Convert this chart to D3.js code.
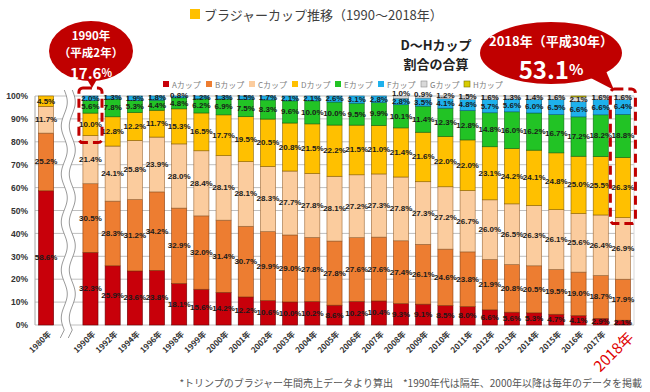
<!DOCTYPE html>
<html><head><meta charset="utf-8">
<script src="https://cdn.jsdelivr.net/npm/d3@7"></script>
<style>body{margin:0;background:#fff;} svg{display:block;}</style>
</head><body><svg id="chart" width="650" height="392"></svg>
<script>
const categories = ["1980年","1990年","1992年","1994年","1996年","1998年","1999年","2000年","2001年","2002年","2003年","2004年","2005年","2006年","2007年","2008年","2009年","2010年","2011年","2012年","2013年","2014年","2015年","2016年","2017年","2018年"];
const seriesNames = ["Aカップ","Bカップ","Cカップ","Dカップ","Eカップ","Fカップ","Gカップ","Hカップ"];
const cupA = [58.6,32.3,25.9,23.6,23.8,18.1,15.6,14.2,12.2,10.6,10.0,10.2,8.6,10.2,10.4,9.3,9.1,8.5,8.0,6.6,5.6,5.3,4.7,4.1,2.9,2.1];
const cupB = [25.2,30.5,28.3,31.2,34.2,32.9,32.0,31.4,30.7,29.9,29.0,27.8,27.8,27.6,27.6,27.4,26.1,24.6,23.8,21.9,20.8,20.5,19.5,19.0,18.7,17.9];
const cupC = [11.7,21.4,24.1,25.8,23.9,28.0,28.4,28.1,28.1,28.3,27.7,27.8,28.1,27.2,27.3,27.8,27.3,27.2,26.7,26.0,26.5,26.3,26.1,25.6,26.4,26.9];
const cupD = [4.5,10.0,12.8,12.2,11.7,15.3,16.5,17.7,19.5,20.5,20.8,21.5,22.2,21.5,21.0,21.4,21.6,22.0,22.0,23.1,24.2,24.1,24.8,25.0,25.5,26.3];
const cupE = [0,5.6,7.8,5.3,4.4,4.8,6.2,6.9,7.5,8.3,9.6,10.0,10.0,9.5,9.9,10.1,11.4,12.3,12.8,14.8,16.0,16.2,16.7,17.2,18.2,18.8];
const cupF = [0,2.0,1.3,1.9,1.8,0.8,1.2,1.3,1.5,1.7,2.1,2.1,2.6,3.1,2.8,2.8,3.5,4.1,4.8,5.7,5.6,6.0,6.5,6.6,6.6,6.4];
const cupG = [0,0,0,0,0,0,0,0,0,0,0,0,0,0,0,1.0,0.9,1.2,1.5,1.6,1.3,1.4,1.6,2.1,1.6,1.6];
const cupH = [0,0,0,0,0,0,0,0,0,0,0,0,0,0,0,0,0,0,0,0,0,0,0,0.4,0,0];
const yTicks = [0,0.1,0.2,0.3,0.4,0.5,0.6,0.7,0.8,0.9,1.0];
const titleText = "ブラジャーカップ推移（1990〜2018年）";
const footText = "*トリンプのブラジャー年間売上データより算出　*1990年代は隔年、2000年以降は毎年のデータを掲載";

const colors = ["#C8000A","#ED7D31","#FBCC9E","#FFC000","#22C325","#1EB1EC","#D9D9D9","#D8CC00"];
const strokes = ["#6b0005","#8a3d0c","#9c6a3a","#8a6200","#0d6a10","#0a5f80","#8c8c8c","#7a7300"];
const allSeries = [cupA,cupB,cupC,cupD,cupE,cupF,cupG,cupH];
const GAP = "_gap";

const rows = categories.map((c,i)=>{const r={cat:c}; seriesNames.forEach((s,j)=>r[s]=allSeries[j][i]); return r;});

const svg = d3.select("#chart");
const jp = "'Noto Sans CJK JP','Noto Sans',sans-serif";
const num = "'Liberation Sans',Arial,sans-serif";

const x = d3.scaleBand().domain([categories[0], GAP, ...categories.slice(1)]).range([35,634]).paddingInner(0.32).paddingOuter(0.16);
const y = d3.scaleLinear().domain([0,1]).range([325,96]);

// Title
svg.append("rect").attr("x",190).attr("y",9).attr("width",10).attr("height",10).attr("fill","#FFC000");
svg.append("text").attr("x",204).attr("y",14).attr("dominant-baseline","central")
  .attr("font-family",jp).attr("font-size",13).attr("fill","#404040").text(titleText);

// gridlines
svg.append("g").selectAll("line").data(yTicks).join("line")
  .attr("x1",35).attr("x2",634).attr("y1",d=>y(d)).attr("y2",d=>y(d))
  .attr("stroke","#bfbfbf").attr("stroke-width",1);
svg.append("line").attr("x1",35).attr("x2",35).attr("y1",y(1)).attr("y2",y(0)).attr("stroke","#a6a6a6");
svg.append("line").attr("x1",634).attr("x2",634).attr("y1",y(1)).attr("y2",y(0)).attr("stroke","#d9d9d9");

// y axis labels
const yAxis = d3.axisLeft(y).tickValues(yTicks).tickFormat(d3.format(".0%")).tickSize(0).tickPadding(7);
const ya = svg.append("g").attr("transform","translate(35,0)").call(yAxis);
ya.select(".domain").remove();
ya.selectAll("text").attr("font-family",num).attr("font-weight","bold").attr("font-size",8.5).attr("fill","#333");

// stacks
const stack = d3.stack().keys(seriesNames).offset(d3.stackOffsetExpand);
const series = stack(rows);
const bw = x.bandwidth();
series.forEach((s,si)=>{
  svg.append("g").selectAll("rect").data(s.filter(d=>d[1]-d[0]>0)).join("rect")
    .attr("x",d=>x(d.data.cat)).attr("width",bw)
    .attr("y",d=>y(d[1])).attr("height",d=>y(d[0])-y(d[1]))
    .attr("fill",colors[si]).attr("stroke",strokes[si]).attr("stroke-width",0.6);
});
// labels with simple upward nudging to avoid collisions at the top of bars
const labels = [];
categories.forEach((c,ci)=>{
  let prevY = Infinity;
  series.forEach((s,si)=>{
    const v = allSeries[si][ci];
    if (v < 0.5) return;
    const d = s[ci];
    let ly = y((d[0]+d[1])/2);
    if (ly > prevY - 8) ly = prevY - 8;
    prevY = ly;
    labels.push({cx:x(c)+bw/2, y:ly, t:v.toFixed(1)+"%"});
  });
});
svg.append("g").selectAll("text").data(labels).join("text")
  .attr("x",d=>d.cx).attr("y",d=>d.y)
  .attr("text-anchor","middle").attr("dominant-baseline","central")
  .attr("font-family",num).attr("font-weight","bold").attr("font-size",8).attr("fill","#1a1a1a")
  .text(d=>d.t);

// break band
const gx = x(GAP)+bw/2;
const waveL=[], waveR=[];
for(let yy=90; yy<=330; yy+=2){
  const off = 3*Math.sin((yy-90)/48*2*Math.PI);
  waveL.push([gx-4+off,yy]); waveR.push([gx+4+off,yy]);
}
svg.append("path").attr("d",d3.line()([...waveL,[waveR[waveR.length-1][0]+4,336],...waveR.slice().reverse()])).attr("fill","#fff").attr("stroke","none");
svg.append("path").attr("d",d3.line()([...waveL,[waveL[waveL.length-1][0]-4,338]])).attr("fill","none").attr("stroke","#808080").attr("stroke-width",0.8);
svg.append("path").attr("d",d3.line()([...waveR,[waveR[waveR.length-1][0]-4,338]])).attr("fill","none").attr("stroke","#808080").attr("stroke-width",0.8);

// x labels
const last = categories[categories.length-1];
svg.append("g").selectAll("text").data(categories).join("text")
  .attr("transform",d=>d===last?`translate(${x(d)+bw/2+7},334) rotate(-45)`:`translate(${x(d)+bw/2+3},332) rotate(-45)`)
  .attr("text-anchor","end").attr("dominant-baseline","central")
  .attr("font-family",jp)
  .attr("font-weight",d=>d===last?"normal":"bold")
  .attr("font-size",d=>d===last?15:8).attr("fill",d=>d===last?"#E00000":"#333")
  .text(d=>d);

// legend
const lg = svg.append("g").selectAll("g").data(seriesNames).join("g")
  .attr("transform",(d,i)=>`translate(${163+i*43},84)`);
lg.append("rect").attr("x",0).attr("y",-3).attr("width",6).attr("height",6)
  .attr("fill",(d,i)=>colors[i]).attr("stroke",(d,i)=>i>=6?strokes[i]:"none").attr("stroke-width",0.6);
lg.append("text").attr("x",9).attr("y",0).attr("dominant-baseline","central")
  .attr("font-family",jp).attr("font-size",8).attr("fill","#808080").text(d=>d);

// dashed boxes
const c1990 = categories[1];
const lowD1990 = (cupA[1]+cupB[1]+cupC[1]) / d3.sum(allSeries, s=>s[1]);
svg.append("rect").attr("x",x(c1990)-4).attr("y",y(1)-8).attr("width",bw+8).attr("height",y(lowD1990)-y(1)+15)
  .attr("rx",4).attr("fill","none").attr("stroke","#C00000").attr("stroke-width",3).attr("stroke-dasharray","9,5");
const li = categories.length-1;
const lowDlast = (cupA[li]+cupB[li]+cupC[li]) / d3.sum(allSeries, s=>s[li]);
svg.append("rect").attr("x",x(last)-5).attr("y",y(1)-7).attr("width",bw+10).attr("height",y(lowDlast)-y(1)+13)
  .attr("rx",4).attr("fill","none").attr("stroke","#C00000").attr("stroke-width",3).attr("stroke-dasharray","9,5");

// callouts
const red="#C00000";
svg.append("path").attr("d","M84,74 L100,74 L92,88 Z").attr("fill",red);
svg.append("ellipse").attr("cx",91).attr("cy",51).attr("rx",42).attr("ry",30).attr("fill",red);
svg.append("text").attr("x",91).attr("y",35).attr("text-anchor","middle").attr("dominant-baseline","central")
  .attr("font-family",jp).attr("font-weight","bold").attr("font-size",11.5).attr("fill","#fff").text("1990年");
svg.append("text").attr("x",91).attr("y",52).attr("text-anchor","middle").attr("dominant-baseline","central")
  .attr("font-family",jp).attr("font-weight","bold").attr("font-size",11.5).attr("fill","#fff").text("（平成2年）");
const t1 = svg.append("text").attr("x",91).attr("y",71.5).attr("text-anchor","middle").attr("dominant-baseline","central")
  .attr("font-family",jp).attr("font-weight","bold").attr("fill","#fff");
t1.append("tspan").attr("font-size",15).text("17.6");
t1.append("tspan").attr("font-size",11).text("%");

svg.append("path").attr("d","M583,74 L603,64 L614,90 Z").attr("fill",red);
svg.append("ellipse").attr("cx",551).attr("cy",53).attr("rx",71).attr("ry",31).attr("fill",red);
svg.append("text").attr("x",551).attr("y",40).attr("text-anchor","middle").attr("dominant-baseline","central")
  .attr("font-family",jp).attr("font-weight","bold").attr("font-size",13).attr("fill","#fff").text("2018年（平成30年）");
const t2 = svg.append("text").attr("x",551).attr("y",68).attr("text-anchor","middle").attr("dominant-baseline","central")
  .attr("font-family",jp).attr("font-weight","bold").attr("fill","#fff");
t2.append("tspan").attr("font-size",24).text("53.1");
t2.append("tspan").attr("font-size",15).text("%");

svg.append("text").attr("x",436).attr("y",44).attr("text-anchor","middle").attr("dominant-baseline","central")
  .attr("font-family",jp).attr("font-weight","bold").attr("font-size",13).attr("fill","#222").text("D〜Hカップ");
svg.append("text").attr("x",436).attr("y",63).attr("text-anchor","middle").attr("dominant-baseline","central")
  .attr("font-family",jp).attr("font-weight","bold").attr("font-size",13).attr("fill","#222").text("割合の合算");

// footnote
svg.append("text").attr("x",642).attr("y",382).attr("text-anchor","end").attr("dominant-baseline","central")
  .attr("font-family",jp).attr("font-size",10).attr("fill","#555").text(footText);
</script>
</body></html>
